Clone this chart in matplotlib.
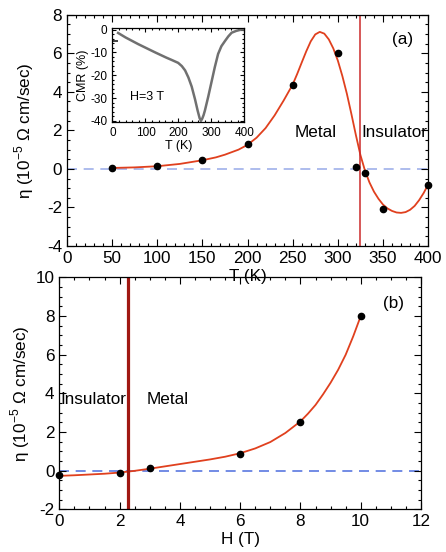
import matplotlib
matplotlib.use("Agg")
import matplotlib.pyplot as plt
from matplotlib.ticker import MultipleLocator

plt.rcParams['font.family'] = ['Liberation Sans', 'DejaVu Sans']
plt.rcParams['axes.unicode_minus'] = False
plt.rcParams['mathtext.fontset'] = 'custom'
plt.rcParams['mathtext.rm'] = 'Liberation Sans'

# ---- panel (a) data ----
T_pts = [50, 100, 150, 200, 250, 300, 320, 330, 350, 400]
eta_T_pts = [0.05, 0.14, 0.47, 1.28, 4.34, 6.04, 0.12, -0.19, -2.1, -0.81]
T_fit = [50, 75, 100, 125, 150, 165, 175, 190, 200, 210, 220, 230, 240, 250, 255, 260, 265, 270, 275,
         280, 285, 290, 295, 300, 305, 310, 315, 320, 325, 330, 335, 340, 345, 350, 355, 360, 365,
         370, 375, 380, 385, 390, 395, 400]
eta_T_fit = [0.05, 0.08, 0.14, 0.26, 0.45, 0.6, 0.74, 1.0, 1.25, 1.62, 2.12, 2.78, 3.55, 4.38, 4.93, 5.52, 6.1, 6.62, 6.98,
             7.11, 7.02, 6.72, 6.25, 5.62, 4.82, 3.9, 2.85, 1.75, 0.72, -0.08, -0.7, -1.18, -1.55, -1.85, -2.05, -2.18, -2.26,
             -2.28, -2.24, -2.12, -1.92, -1.62, -1.25, -0.81]
T_transition = 324

# ---- inset data (CMR at H=3 T) ----
T_cmr = [17, 40, 78, 129, 163, 179, 199, 210, 220, 230, 240, 250, 258, 264, 268, 272, 276, 280,
         290, 300, 310, 320, 330, 341, 351, 361, 375, 391, 400]
cmr = [-1.5, -3.5, -6.4, -10.0, -12.3, -13.3, -14.6, -16.0, -17.9, -21.0, -25.0, -30.5, -35.5, -38.8, -40.0,
       -39.0, -37.5, -35.5, -29.5, -23.0, -16.5, -10.7, -7.3, -5.0, -3.0, -1.4, -0.6, 0.0, 0.0]
T_cmr_lead = [2, 15]
cmr_lead = [-5.0, -5.0]

# ---- panel (b) data ----
H_pts = [0, 2, 3, 6, 8, 10]
eta_H_pts = [-0.24, -0.12, 0.12, 0.88, 2.53, 8.0]
H_fit = [0, 0.5, 1, 1.5, 2, 2.5, 3, 3.5, 4, 4.5, 5, 5.5, 6, 6.5, 7, 7.5, 8, 8.25, 8.5, 8.75,
         9, 9.25, 9.5, 9.75, 10]
eta_H_fit = [-0.27, -0.24, -0.2, -0.16, -0.1, -0.01, 0.1, 0.22, 0.34, 0.46, 0.58, 0.72, 0.9, 1.15, 1.48, 1.95, 2.55,
             2.95, 3.4, 3.95, 4.55, 5.22, 6.0, 6.95, 8.0]
H_transition = 2.27

ylabel = 'η (10$^{\\mathregular{-5}}$ Ω cm/sec)'

fig = plt.figure(figsize=(4.46, 5.52), dpi=100)

red = '#e0401e'
dash_col_a = '#9fb0ea'
dash_col_b = '#5a78e0'
FS = 12.3


def style(ax, xmaj, xmin, ymaj, ymin, fs=FS, maj=5, mnr=2.5):
    ax.xaxis.set_major_locator(MultipleLocator(xmaj))
    ax.xaxis.set_minor_locator(MultipleLocator(xmin))
    ax.yaxis.set_major_locator(MultipleLocator(ymaj))
    ax.yaxis.set_minor_locator(MultipleLocator(ymin))
    ax.tick_params(which='both', direction='in', top=True, right=True, labelsize=fs, width=0.8)
    ax.tick_params(which='major', length=maj)
    ax.tick_params(which='minor', length=mnr)
    for s in ax.spines.values():
        s.set_linewidth(0.9)


# panel (a)
ax1 = fig.add_axes([0.150, 0.5543, 0.810, 0.419])
ax1.set_xlim(0, 400)
ax1.set_ylim(-4, 8)
style(ax1, 50, 10, 2, 0.5)
ax1.axhline(0, color=dash_col_a, lw=1.2, ls=(0, (6, 4)), zorder=1)
ax1.plot(T_fit, eta_T_fit, color=red, lw=1.3, zorder=2)
ax1.axvline(T_transition, color='#cc2a2a', lw=1.1, zorder=2)
ax1.plot(T_pts, eta_T_pts, 'o', color='black', ms=4.5, zorder=3, clip_on=False)
ax1.text(252, 1.9, 'Metal', fontsize=FS, ha='left', va='center')
ax1.text(326, 1.9, 'Insulator', fontsize=FS, ha='left', va='center')
ax1.text(360, 6.7, '(a)', fontsize=FS, ha='left', va='center')
ax1.set_xlabel('T (K)', fontsize=FS)
ax1.xaxis.set_label_coords(0.5, -0.098)
ax1.set_ylabel(ylabel, fontsize=FS)
ax1.yaxis.set_label_coords(-0.085, 0.5)

# inset
axi = fig.add_axes([0.2522, 0.779, 0.296, 0.170])
axi.set_xlim(0, 400)
axi.set_ylim(-40.5, 0.6)
style(axi, 100, 20, 10, 2, fs=8.5, maj=3, mnr=1.5)
axi.plot(T_cmr, cmr, color='#707070', lw=1.8)
axi.plot(T_cmr_lead, cmr_lead, color='#404040', lw=1.4)
axi.text(53, -29.5, 'H=3 T', fontsize=9, ha='left', va='center')
axi.set_xlabel('T (K)', fontsize=9, labelpad=1)
axi.set_ylabel('CMR (%)', fontsize=9, labelpad=1)

# panel (b)
ax2 = fig.add_axes([0.133, 0.0774, 0.811, 0.420])
ax2.patch.set_visible(False)
ax2.set_xlim(0, 12)
ax2.set_ylim(-2, 10)
style(ax2, 2, 0.5, 2, 0.5)
ax2.axhline(0, color=dash_col_b, lw=1.2, ls=(0, (6, 4)), zorder=1)
ax2.plot(H_fit, eta_H_fit, color=red, lw=1.3, zorder=2)
ax2.axvline(H_transition, color='#a01812', lw=2.3, zorder=2)
ax2.plot(H_pts, eta_H_pts, 'o', color='black', ms=4.5, zorder=3, clip_on=False)
ax2.text(0.02, 3.66, 'Insulator', fontsize=FS, ha='left', va='center')
ax2.text(2.9, 3.66, 'Metal', fontsize=FS, ha='left', va='center')
ax2.text(10.74, 8.66, '(b)', fontsize=FS, ha='left', va='center')
ax2.set_xlabel('H (T)', fontsize=FS, labelpad=2)
ax2.set_ylabel(ylabel, fontsize=FS)
ax2.yaxis.set_label_coords(-0.075, 0.5)

fig.savefig('out.png', dpi=100)
